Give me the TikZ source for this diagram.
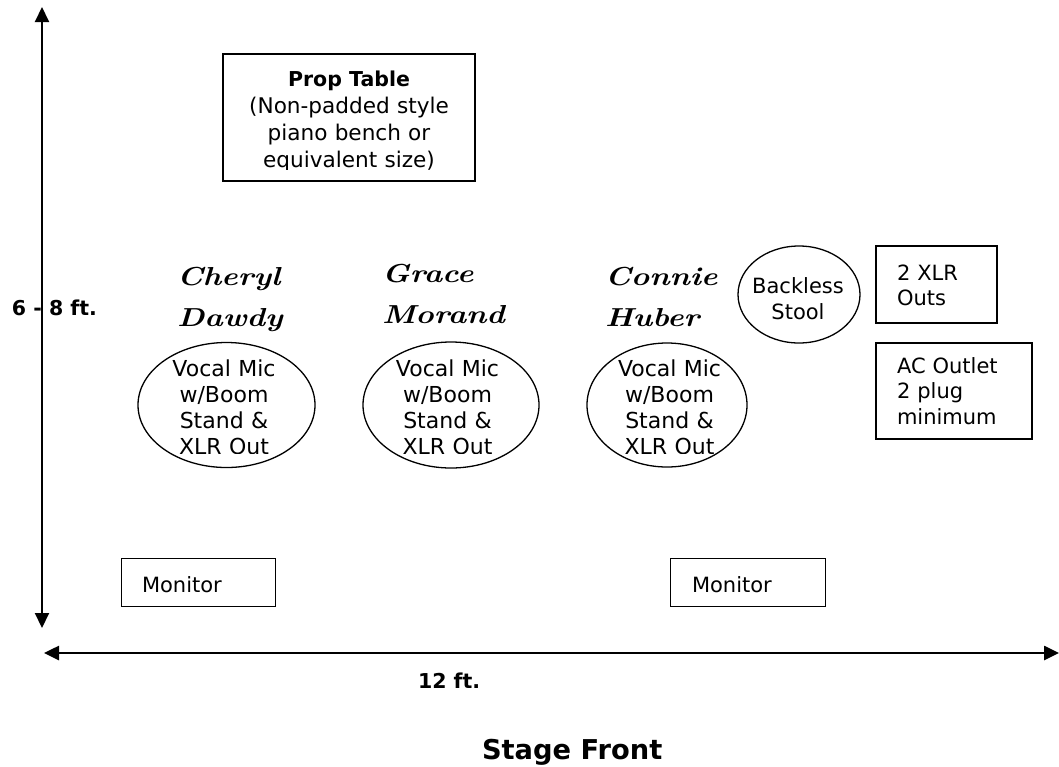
\documentclass[tikz,border=0pt]{standalone}
\usepackage{fontspec}
\setmainfont{DejaVu Sans}
\newfontfamily\handfont[FakeStretch=1.2]{Latin Modern Roman}
\usetikzlibrary{arrows.meta,shapes.geometric}
\begin{document}
\begin{tikzpicture}[x=1pt,y=-1pt,
  every node/.style={inner sep=0pt, outer sep=0pt},
  txt/.style={font=\fontsize{21}{26.3}\selectfont},
  mictxt/.style={font=\fontsize{22}{26}\selectfont, text width=130pt, align=center, anchor=base},
  box/.style={draw, line width=1.3pt, rectangle},
  oval/.style={draw, line width=1.3pt, ellipse},
  person/.style={font=\handfont\bfseries\itshape\fontsize{26}{41}\selectfont, text width=150pt, align=left, anchor=base west},
  dim/.style={line width=2pt, {Triangle[length=15pt,width=14pt]}-{Triangle[length=15pt,width=14pt]}},
  lbl/.style={font=\bfseries\fontsize{20.5}{24}\selectfont, anchor=base west}]
\useasboundingbox (0,0) rectangle (1059,766);

% dimension arrows
\coordinate (vt) at (42,7);
\coordinate (vb) at (42,628);
\draw[dim] (vt) -- (vb);
\coordinate (hl) at (44,653);
\coordinate (hr) at (1059,653);
\draw[dim, line width=2.6pt] (hl) -- (hr);
\node[lbl] (depth) at (12,315) {6 - 8 ft.};
\node[lbl] (width) at (418,688) {12 ft.};
\node[lbl, font=\bfseries\fontsize{27.3}{30}\selectfont] (front) at (482,759) {Stage Front};

% prop table
\node[box, minimum width=252pt, minimum height=127pt] (prop) at (349,117.5) {};
\begin{scope}
\clip (223,54) rectangle (475,169.5);
\node[txt, font=\fontsize{21.6}{27}\selectfont, text width=240pt, align=center, anchor=base] (propt) at (349,86.5)
  {{\bfseries\fontsize{20.5}{27}\selectfont Prop Table}\\(Non-padded style\\piano bench or\\equivalent size)};
\end{scope}

% performers
\node[person] (cheryl) at (177,285) {Cheryl\\Dawdy};
\node[person] (grace) at (382,282) {Grace\\Morand};
\node[person] (connie) at (605,285) {Connie\\Huber};

% microphones
\node[oval, minimum width=177pt, minimum height=125pt] (micA) at (226.5,405) {};
\node[oval, minimum width=176pt, minimum height=126pt] (micB) at (451,405) {};
\node[oval, minimum width=160pt, minimum height=124pt] (micC) at (667,405) {};
\begin{scope}
\clip (130,340) rectangle (760,453);
\node[mictxt] (micAt) at (224,376.5) {Vocal Mic\\w/Boom\\Stand \&\\XLR Out};
\node[mictxt] (micBt) at (447.5,376.5) {Vocal Mic\\w/Boom\\Stand \&\\XLR Out};
\node[mictxt] (micCt) at (669.5,376.5) {Vocal Mic\\w/Boom\\Stand \&\\XLR Out};
\end{scope}

% stool
\node[oval, minimum width=122pt, minimum height=97pt] (stool) at (799,294.5) {};
\node[txt, font=\fontsize{21}{26}\selectfont, text width=110pt, align=center, anchor=base] (stoolt) at (798,293) {Backless\\Stool};

% outputs
\node[box, minimum width=121pt, minimum height=77pt] (xlr) at (936.5,284.5) {};
\node[txt, font=\fontsize{21}{25}\selectfont, text width=110pt, align=left, anchor=base west] (xlrt) at (897,280) {2 XLR\\Outs};
\node[box, minimum width=156pt, minimum height=96pt] (ac) at (954,391) {};
\node[txt, font=\fontsize{21}{25.5}\selectfont, text width=130pt, align=left, anchor=base west] (act) at (897,373) {AC Outlet\\2 plug\\minimum};

% monitors
\node[box, minimum width=154pt, minimum height=48.5pt] (monA) at (198.6,582.5) {};
\node[txt, anchor=base west] (monAt) at (142,592.7) {Monitor};
\node[box, minimum width=155pt, minimum height=48.5pt] (monB) at (748,582.5) {};
\node[txt, anchor=base west] (monBt) at (692,592.7) {Monitor};
\end{tikzpicture}
\end{document}
